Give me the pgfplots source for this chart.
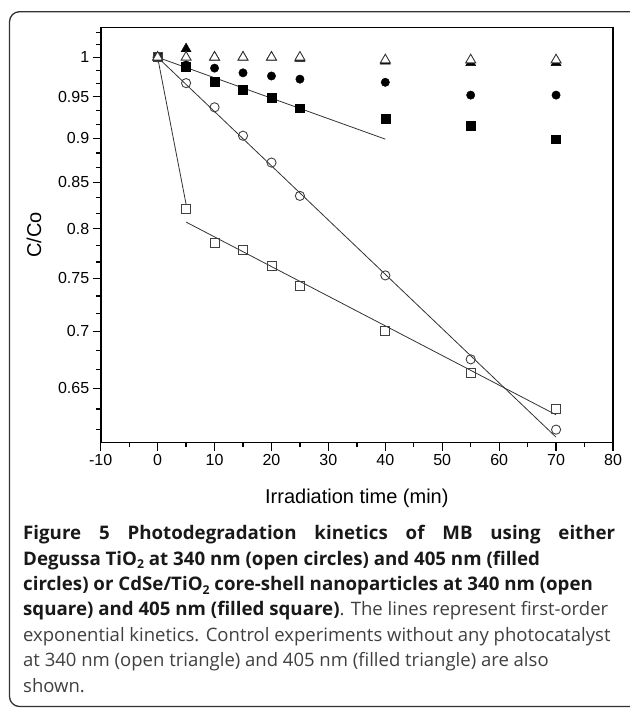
\documentclass[border=0pt]{standalone}
\usepackage{fontspec}
\setmainfont{Liberation Sans}
\newfontfamily\capfont{Open Sans}
\usepackage{pgfplots}
\pgfplotsset{compat=1.18}
\newcommand\sub[1]{\raisebox{-0.35ex}{\fontsize{12.2}{12.2}\selectfont #1}}
\begin{document}
\begin{tikzpicture}[x=1pt,y=1pt]
\path[use as bounding box] (0,0) rectangle (629,708);
\draw[line width=1.3pt, black!80, rounded corners=10pt] (9.5,1.5) -- (9.5,696.3) -- (680,696.3) -- (680,1.5) -- cycle;
\begin{axis}[
  name=ax,
  at={(100.7pt,265.3pt)}, anchor=south west,
  scale only axis, width=512.3pt, height=415pt,
  xmin=-10, xmax=80, ymin=0.6056, ymax=1.0393, ymode=log,
  axis line style={draw=black, line width=1.6pt},
  tick pos=left, tick align=outside,
  major tick length=8pt, minor tick length=4.5pt,
  tick style={line width=1.3pt, black},
  xtick={-10,0,...,80}, minor x tick num=1,
  ytick={0.65,0.7,0.75,0.8,0.85,0.9,0.95,1},
  yticklabels={0.65,0.7,0.75,0.8,0.85,0.9,0.95,1},
  minor ytick={0.61622,0.63287,0.66626,0.68293,0.71628,0.73294,0.76631,0.78298,0.81634,0.83301,0.86635,0.88302,0.91636,0.93302,0.96637,0.98305,1.01640,1.03306},
  /pgf/number format/assume math mode=true,
  ticklabel style={font=\fontsize{16}{16}\selectfont, black},
  xlabel={Irradiation time (min)},
  xlabel style={font=\fontsize{20}{20}\selectfont, at={(axis description cs:0.5,-0.1477)}, anchor=base},
  ylabel={C/Co},
  ylabel style={font=\fontsize{20}{20}\selectfont, at={(axis description cs:-0.1165,0.5)}, anchor=base},
  clip=false,
]
% fitted first-order lines
\addplot[black!80, line width=0.8pt] coordinates {(0,1.0) (40,0.899)};
\addplot[black!80, line width=0.8pt] coordinates {(0,1.0) (70,0.610)};
\addplot[black!80, line width=0.8pt] coordinates {(0,1.0) (5,0.826)};
\addplot[black!80, line width=0.8pt] coordinates {(5,0.807) (70,0.628)};
% filled circles (TiO2, 405 nm)
\addplot[only marks, mark=*, mark size=4.2pt, black] coordinates {
(0,1.0) (5,0.990) (10,0.986) (15,0.980) (20,0.976) (25,0.972) (40,0.968) (55,0.952) (70,0.952)};
% filled squares (CdSe/TiO2, 405 nm)
\addplot[only marks, mark=square*, mark size=4.4pt, black] coordinates {
(0,1.0) (5,0.988) (10,0.969) (15,0.959) (20,0.949) (25,0.936) (40,0.923) (55,0.915) (70,0.899)};
% open circles (TiO2, 340 nm)
\addplot[only marks, mark=o, mark size=4.6pt, black!75, mark options={line width=0.9pt}] coordinates {
(0,1.0) (5,0.967) (10,0.937) (15,0.903) (20,0.872) (25,0.835) (40,0.753) (55,0.675) (70,0.616)};
% open squares (CdSe/TiO2, 340 nm)
\addplot[only marks, mark=square, mark size=4.5pt, black!75, mark options={line width=0.9pt}] coordinates {
(0,1.0) (5,0.821) (10,0.785) (15,0.778) (20,0.762) (25,0.743) (40,0.700) (55,0.663) (70,0.633)};
% filled triangles (control, 405 nm)
\addplot[only marks, mark=triangle*, mark size=5.8pt, black] coordinates {
(0,1.0) (5,1.011) (10,1.0) (15,1.0) (20,1.0) (25,0.9985) (40,0.995) (55,0.993) (70,0.993)};
% open triangles (control, 340 nm)
\addplot[only marks, mark=triangle*, mark size=5.8pt, mark options={line width=0.9pt, draw=black!80, fill=white}] coordinates {
(0,1.0) (5,1.0) (10,1.0) (15,1.0) (20,1.0) (25,1.0) (40,0.9965) (55,0.9965) (70,0.9965)};
\end{axis}
\draw[line width=1.6pt, black, line cap=rect] (ax.south west) -- (ax.south east);
\draw[line width=1.6pt, black, line cap=rect] (ax.south east) -- (ax.north east);
\draw[line width=1.6pt, black, line cap=rect] (ax.north east) -- (ax.north west);
\draw[line width=1.6pt, black, line cap=rect] (ax.north west) -- (ax.south west);
\begin{scope}[every node/.style={anchor=base west, inner sep=0, font=\capfont\fontsize{18.5}{20}\selectfont}]
\node[black!90] at (23,168) {\fontsize{18.7}{20}\selectfont\bfseries\makebox[592pt][s]{Figure 5 Photodegradation kinetics of MB using either}};
\node[black!90] at (23,142.7) {\fontsize{18.7}{20}\selectfont\bfseries Degussa TiO\sub{2} at 340 nm (open circles) and 405 nm (filled};
\node[black!90] at (23,117.3) {\fontsize{18.7}{20}\selectfont\bfseries circles) or CdSe/TiO\sub{2} core-shell nanoparticles at 340 nm (open};
\node at (23,92) {{\fontsize{18.7}{20}\selectfont\bfseries\color{black!90}square) and 405 nm (filled square)}\color{black!75}. The lines represent first-order};
\node[black!75] at (23,66.7) {exponential kinetics. Control experiments without any photocatalyst};
\node[black!75] at (23,41.3) {at 340 nm (open triangle) and 405 nm (filled triangle) are also};
\node[black!75] at (23,16) {shown.};
\end{scope}
\end{tikzpicture}
\end{document}
